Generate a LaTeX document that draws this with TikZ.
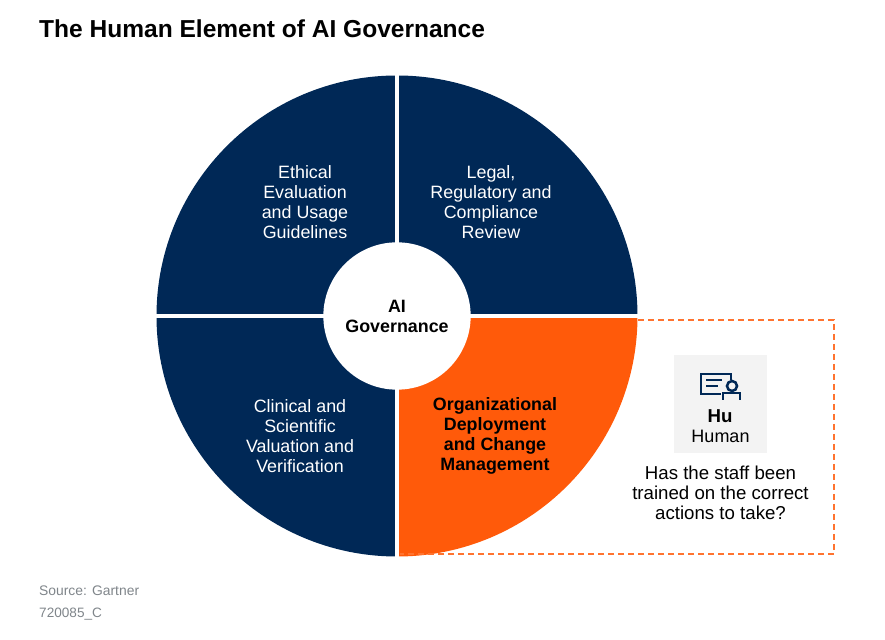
\documentclass[tikz,border=0pt]{standalone}
\usepackage{fontspec}
\setmainfont{Liberation Sans}
\definecolor{navy}{HTML}{002856}
\definecolor{flame}{HTML}{FF5A0A}
\definecolor{tile}{HTML}{F3F3F3}
\definecolor{srcgray}{HTML}{7F858A}
\tikzset{
  wedge/.style={fill=navy, draw=none},
  split/.style={draw=white, line width=3pt},
  seclabel/.style={align=center, text=white, font=\fontsize{13.4}{15}\selectfont},
  icon/.style={draw=navy, line width=1.9pt},
}
\begin{document}
\begin{tikzpicture}[x=0.75pt, y=0.75pt]
\useasboundingbox (0,0) rectangle (885,639);
\node[anchor=west, font=\fontsize{18.4}{20}\bfseries] (title) at (34.5,610) {The Human Element of AI Governance};
\coordinate (C) at (397,323);
\fill[wedge] (C) -- (637.5,323) arc (0:90:240.5) -- cycle;
\fill[wedge] (C) -- (397,563.5) arc (90:180:240.5) -- cycle;
\fill[wedge] (C) -- (156.5,323) arc (180:270:240.5) -- cycle;
\fill[fill=flame] (C) -- (397,82.5) arc (270:360:240.5) -- cycle;
\coordinate (T) at (397,566);
\coordinate (B) at (397,80);
\coordinate (L) at (154,323);
\coordinate (R) at (639,323);
\draw[split] (T) -- (B);
\draw[split] (L) -- (R);
\node[shape=circle, fill=white, minimum size=110.5pt, inner sep=0pt] (hub) at (397,323) {};
\node[align=center, font=\fontsize{13.4}{15}\bfseries] (hubtext) at (397,323) {AI\\Governance};
\node[seclabel] (ethical) at (305,437) {Ethical\\Evaluation\\and Usage\\Guidelines};
\node[seclabel] (legal) at (491,437) {Legal,\\Regulatory and\\Compliance\\Review};
\node[seclabel] (clinical) at (300,203) {Clinical and\\Scientific\\Valuation and\\Verification};
\node[align=center, font=\fontsize{13.4}{15}\bfseries] (deploy) at (495,203) {Organizational\\Deployment\\and Change\\Management};
\coordinate (d1) at (638,319);
\coordinate (d2) at (834,319);
\coordinate (d3) at (834,85);
\coordinate (d4) at (400,85);
\draw[draw=flame!85!white, line width=1.9pt, dash pattern=on 4.5pt off 3pt] (d1) -- (d2) -- (d3) -- (d4);
\node[shape=rectangle, fill=tile, minimum width=69.75pt, minimum height=73.5pt, inner sep=0pt] (tilebox) at (720.5,235) {};
\draw[icon] (731,259) -- (731,265) -- (701,265) -- (701,245) -- (721,245);
\draw[icon] (706,259) -- (722,259);
\draw[icon] (706,253) -- (718,253);
\node[shape=circle, icon, minimum size=7.5pt, inner sep=0pt] (badge) at (732,253) {};
\draw[icon] (723,239) -- (723,246) -- (740,246) -- (740,239);
\node[font=\fontsize{14}{16}\bfseries] (hu) at (720,223) {Hu};
\node[font=\fontsize{13.5}{16}\selectfont] (human) at (720.5,203) {Human};
\node[align=center, font=\fontsize{14}{15}\selectfont] (question) at (720.5,146) {Has the staff been\\trained on the correct\\actions to take?};
\node[anchor=west, text=srcgray, font=\fontsize{10.4}{12}\selectfont] (source) at (34.5,48) {Source: Gartner};
\node[anchor=west, text=srcgray, font=\fontsize{10.2}{12}\selectfont] (code) at (34.5,25) {720085\_C};
\end{tikzpicture}
\end{document}
